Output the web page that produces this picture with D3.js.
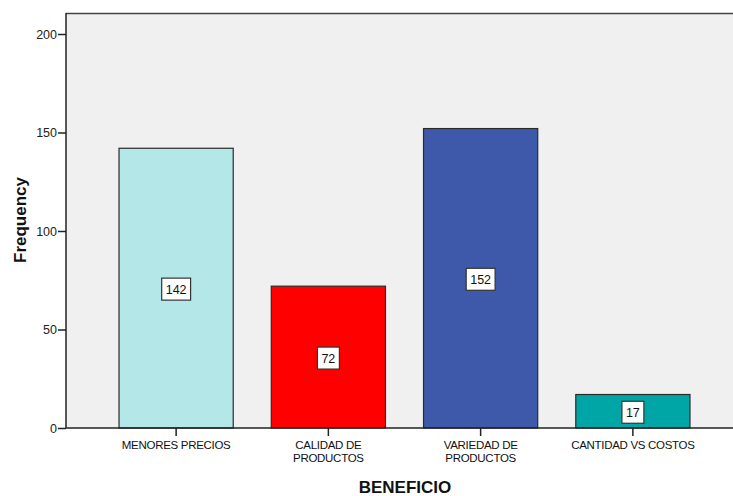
<!DOCTYPE html>
<html>
<head>
<meta charset="utf-8">
<script src="https://cdn.jsdelivr.net/npm/d3@7"></script>
<style>
  html, body { margin: 0; padding: 0; background: #fff; }
  svg { display: block; font-family: "Liberation Sans", Arial, sans-serif; }
</style>
</head>
<body>
<svg id="chart" width="733" height="496"></svg>
<script>
// Frequency of each BENEFICIO category
const categories = ["MENORES PRECIOS", "CALIDAD DE PRODUCTOS", "VARIEDAD DE PRODUCTOS", "CANTIDAD VS COSTOS"];
const categoryLines = [["MENORES PRECIOS"], ["CALIDAD DE", "PRODUCTOS"], ["VARIEDAD DE", "PRODUCTOS"], ["CANTIDAD VS COSTOS"]];
const frequencies = [142, 72, 152, 17];
const barColors = ["#b4e7e8", "#ff0000", "#3e59aa", "#00a6a5"];
const yTicks = [0, 50, 100, 150, 200];

const svg = d3.select("#chart");
const plot = { left: 66, top: 13, right: 733, bottom: 428 };

const x = d3.scaleBand()
  .domain(categories)
  .range([100, 709])
  .paddingInner(0.25)
  .paddingOuter(0.125);

const y = d3.scaleLinear()
  .domain([0, 200])
  .range([plot.bottom, 34]);

// plot background
svg.append("rect")
  .attr("x", plot.left).attr("y", plot.top)
  .attr("width", plot.right - plot.left)
  .attr("height", plot.bottom - plot.top)
  .attr("fill", "#f0f0f0");

// top frame line
svg.append("line")
  .attr("x1", plot.left).attr("x2", plot.right)
  .attr("y1", plot.top + 0.5).attr("y2", plot.top + 0.5)
  .attr("stroke", "#444").attr("stroke-width", 1.5);

// bars
svg.append("g").selectAll("rect")
  .data(frequencies)
  .join("rect")
  .attr("x", (d, i) => x(categories[i]))
  .attr("y", d => y(d))
  .attr("width", x.bandwidth())
  .attr("height", d => y(0) - y(d))
  .attr("fill", (d, i) => barColors[i])
  .attr("stroke", "#2a2a2a")
  .attr("stroke-width", 1.2);

// value labels in boxes at bar mid-height
const labels = svg.append("g").selectAll("g")
  .data(frequencies)
  .join("g")
  .attr("transform", (d, i) => `translate(${x(categories[i]) + x.bandwidth() / 2},${(y(d) + y(0)) / 2 + 1})`);

labels.append("text")
  .attr("text-anchor", "middle")
  .attr("dy", "0.36em")
  .attr("font-size", 12.5)
  .attr("fill", "#111")
  .text(d => d)
  .each(function () {
    const b = this.getBBox();
    d3.select(this.parentNode).insert("rect", "text")
      .attr("x", b.x - 4).attr("y", -11)
      .attr("width", b.width + 8).attr("height", 22)
      .attr("fill", "#fff")
      .attr("stroke", "#333")
      .attr("stroke-width", 1.2);
  });

// y axis
const yAxis = svg.append("g")
  .attr("transform", `translate(${plot.left},0)`)
  .call(d3.axisLeft(y).tickValues(yTicks).tickSize(8).tickSizeOuter(0).tickPadding(1));
yAxis.select(".domain").remove();
yAxis.selectAll(".tick line").attr("stroke", "#222").attr("stroke-width", 1.5);
yAxis.selectAll(".tick text")
  .attr("font-size", 12.5)
  .attr("fill", "#222")
  .attr("font-family", "Liberation Sans, Arial, sans-serif");

svg.append("line")
  .attr("x1", plot.left).attr("x2", plot.left)
  .attr("y1", plot.top).attr("y2", plot.bottom)
  .attr("stroke", "#222").attr("stroke-width", 1.5);

// x axis
const xAxis = svg.append("g")
  .attr("transform", `translate(0,${plot.bottom})`)
  .call(d3.axisBottom(x).tickSize(8).tickSizeOuter(0).tickFormat(""));
xAxis.select(".domain").remove();
xAxis.selectAll(".tick line").attr("stroke", "#222").attr("stroke-width", 1.5);

svg.append("line")
  .attr("x1", plot.left).attr("x2", plot.right)
  .attr("y1", plot.bottom).attr("y2", plot.bottom)
  .attr("stroke", "#222").attr("stroke-width", 1.5);

// category labels, one text element per line
const catGroups = svg.append("g").selectAll("g")
  .data(categories)
  .join("g")
  .attr("transform", d => `translate(${x(d) + x.bandwidth() / 2},449)`);
catGroups.selectAll("text")
  .data((d, i) => categoryLines[i])
  .join("text")
  .attr("y", (d, j) => j * 12.5)
  .attr("text-anchor", "middle")
  .attr("font-size", 11.5)
  .attr("letter-spacing", -0.3)
  .attr("fill", "#111")
  .text(d => d);

// axis titles
svg.append("text")
  .attr("x", 405).attr("y", 493)
  .attr("text-anchor", "middle")
  .attr("font-size", 17)
  .attr("font-weight", "bold")
  .attr("fill", "#111")
  .text("BENEFICIO");

svg.append("text")
  .attr("transform", "translate(26,220) rotate(-90)")
  .attr("text-anchor", "middle")
  .attr("font-size", 17)
  .attr("font-weight", "bold")
  .attr("fill", "#111")
  .text("Frequency");
</script>
</body>
</html>
